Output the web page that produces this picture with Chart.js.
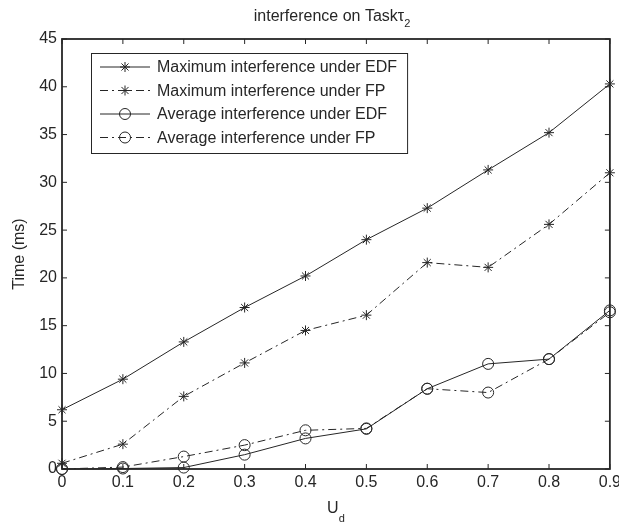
<!DOCTYPE html>
<html lang="en">
<head>
    <meta charset="UTF-8">
    <title>interference on Task τ2</title>
    <script src="https://cdn.jsdelivr.net/npm/chart.js@4"></script>
    <style>
        html, body { margin: 0; padding: 0; background: #fff; overflow: hidden; }
        #chart { display: block; }
    </style>
</head>
<body>
    <!-- a few px wider than the window so the last x label gets cut like the original -->
    <canvas id="chart" width="625" height="527"></canvas>
    <script>
        // values
        const udLabels = ['0', '0.1', '0.2', '0.3', '0.4', '0.5', '0.6', '0.7', '0.8', '0.9'];
        const maxEdf = [6.2, 9.4, 13.3, 16.9, 20.2, 24.0, 27.3, 31.3, 35.2, 40.3];
        const maxFp = [0.6, 2.6, 7.6, 11.1, 14.5, 16.1, 21.6, 21.1, 25.6, 31.0];
        const avgEdf = [0, 0.05, 0.15, 1.5, 3.2, 4.2, 8.4, 11.0, 11.5, 16.6];
        const avgFp = [0, 0.2, 1.3, 2.5, 4.05, 4.25, 8.4, 8.0, 11.5, 16.4];
        const seriesNames = [
            'Maximum interference under EDF',
            'Maximum interference under FP',
            'Average interference under EDF',
            'Average interference under FP'
        ];

        const ink = '#262626';
        const family = '"Liberation Sans", Arial, Helvetica, sans-serif';
        const dashDot = [8, 4, 2, 4];

        function series(label, data, style, dashed) {
            return {
                label: label,
                data: data,
                borderColor: ink,
                borderWidth: 1,
                borderDash: dashed ? dashDot : [],
                pointStyle: style,
                pointRadius: style === 'star' ? 5 : 5.5,
                pointBorderColor: ink,
                pointBackgroundColor: 'rgba(0,0,0,0)',
                pointBorderWidth: 1,
                fill: false,
                tension: 0,
                clip: false
            };
        }

        // box, inward tick marks, title, x label and legend (MATLAB look)
        const matlabBits = {
            id: 'matlabBits',
            beforeDatasetsDraw(chart) {
                const { ctx, chartArea: a, scales: { x, y } } = chart;
                ctx.save();
                ctx.strokeStyle = ink;
                ctx.lineWidth = 1;
                ctx.beginPath();
                x.ticks.forEach((t, i) => {
                    const px = x.getPixelForTick(i);
                    ctx.moveTo(px, a.bottom); ctx.lineTo(px, a.bottom - 5);
                    ctx.moveTo(px, a.top); ctx.lineTo(px, a.top + 5);
                });
                y.ticks.forEach((t, i) => {
                    const py = y.getPixelForTick(i);
                    ctx.moveTo(a.left, py); ctx.lineTo(a.left + 5, py);
                    ctx.moveTo(a.right, py); ctx.lineTo(a.right - 5, py);
                });
                ctx.stroke();
                ctx.lineWidth = 1.8;
                ctx.strokeRect(a.left, a.top, a.right - a.left, a.bottom - a.top);
                ctx.restore();
            },
            afterDraw(chart) {
                const { ctx, chartArea: a } = chart;
                ctx.save();
                ctx.fillStyle = ink;
                ctx.textBaseline = 'alphabetic';
                ctx.textAlign = 'left';

                // title with tau subscript 2
                const big = '16px ' + family, small = '11px ' + family;
                ctx.font = big;
                const t1 = 'interference on Task';
                const w1 = ctx.measureText(t1).width;
                const wTau = ctx.measureText('τ').width;
                ctx.font = small;
                const w2 = ctx.measureText('2').width;
                let tx = 332 - (w1 + wTau + w2) / 2;
                ctx.font = big;
                ctx.fillText(t1, tx, 21);
                ctx.fillText('τ', tx + w1, 21);
                ctx.font = small;
                ctx.fillText('2', tx + w1 + wTau, 27);

                // x axis label U_d
                ctx.font = big;
                const wu = ctx.measureText('U').width;
                ctx.font = small;
                const wd = ctx.measureText('d').width;
                const ux = (a.left + a.right) / 2 - (wu + wd) / 2;
                ctx.font = big;
                ctx.fillText('U', ux, a.bottom + 44);
                ctx.font = small;
                ctx.fillText('d', ux + wu, a.bottom + 53);

                // legend box
                ctx.font = big;
                const sets = chart.data.datasets;
                const textW = Math.max(...sets.map(d => ctx.measureText(d.label).width));
                const bx = 91, by = 53, rowH = 23.5;
                const bw = 66 + textW + 10, bh = 100;
                ctx.fillStyle = '#fff';
                ctx.fillRect(bx, by, bw, bh);
                ctx.strokeStyle = ink;
                ctx.lineWidth = 1;
                ctx.strokeRect(bx + 0.5, by + 0.5, bw, bh);
                sets.forEach((d, i) => {
                    const ry = by + 14 + i * rowH;
                    ctx.save();
                    ctx.setLineDash(d.borderDash);
                    ctx.beginPath();
                    ctx.moveTo(bx + 9, ry);
                    ctx.lineTo(bx + 59, ry);
                    ctx.stroke();
                    ctx.restore();
                    ctx.fillStyle = 'rgba(0,0,0,0)';
                    ctx.strokeStyle = ink;
                    ctx.lineWidth = 1;
                    Chart.helpers.drawPoint(ctx, {
                        pointStyle: d.pointStyle,
                        radius: d.pointRadius,
                        borderWidth: 1,
                        rotation: 0
                    }, bx + 34, ry);
                    ctx.fillStyle = ink;
                    ctx.textBaseline = 'middle';
                    ctx.fillText(d.label, bx + 66, ry + 1);
                });
                ctx.restore();
            }
        };

        const tickFont = { family: family, size: 16 };

        new Chart(document.getElementById('chart'), {
            type: 'line',
            data: {
                labels: udLabels,
                datasets: [
                    series(seriesNames[0], maxEdf, 'star', false),
                    series(seriesNames[1], maxFp, 'star', true),
                    series(seriesNames[2], avgEdf, 'circle', false),
                    series(seriesNames[3], avgFp, 'circle', true)
                ]
            },
            options: {
                responsive: false,
                animation: false,
                layout: { padding: { top: 39, right: 10, left: 0, bottom: 0 } },
                plugins: {
                    legend: { display: false },
                    tooltip: { enabled: false }
                },
                scales: {
                    x: {
                        type: 'category',
                        offset: false,
                        grid: { display: false, drawTicks: false },
                        border: { display: false },
                        ticks: { font: tickFont, color: ink, padding: 4, maxRotation: 0, autoSkip: false },
                        afterFit: function (scale) { scale.height = 58; }
                    },
                    y: {
                        min: 0,
                        max: 45,
                        grid: { display: false, drawTicks: false },
                        border: { display: false },
                        ticks: { stepSize: 5, font: tickFont, color: ink, padding: 5 },
                        title: {
                            display: true,
                            text: 'Time (ms)',
                            font: { family: family, size: 16 },
                            color: ink,
                            padding: { top: 10, bottom: 0 }
                        },
                        afterFit: function (scale) { scale.width = 62; }
                    }
                }
            },
            plugins: [matlabBits]
        });
    </script>
</body>
</html>
